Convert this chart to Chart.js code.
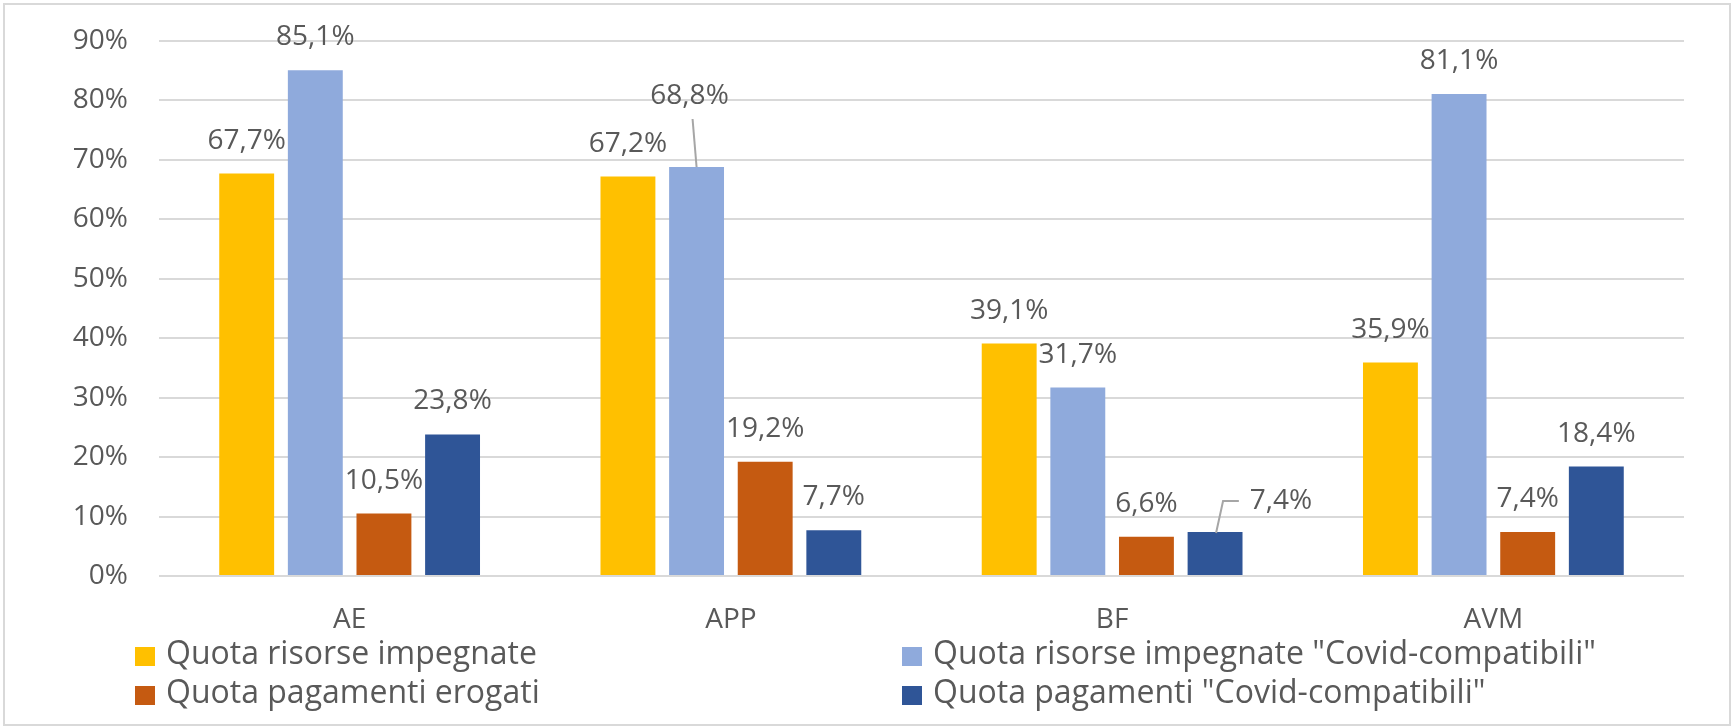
<!DOCTYPE html>
<html>
<head>
<meta charset="utf-8">
<script src="https://cdn.jsdelivr.net/npm/chart.js@4.4.1/dist/chart.umd.min.js"></script>
<style>
    html, body { margin: 0; padding: 0; background: #fff; }
    #wrap { position: relative; width: 1733px; height: 728px; }
    #frame { position: absolute; left: 3px; top: 3px; width: 1728px; height: 723px; border: 2px solid #d9d9d9; box-sizing: border-box; }
    canvas { position: absolute; left: 0; top: 0; }
</style>
</head>
<body>
<div id="wrap">
    <div id="frame"></div>
    <canvas id="chart" width="1733" height="728"></canvas>
</div>
<script>
// Categories and series (percent values)
const categories = ['AE', 'APP', 'BF', 'AVM'];
const seriesNames = [
    'Quota risorse impegnate',
    'Quota risorse impegnate "Covid-compatibili"',
    'Quota pagamenti erogati',
    'Quota pagamenti "Covid-compatibili"'
];
const risorseImpegnate = [67.7, 67.2, 39.1, 35.9];
const risorseCovid = [85.1, 68.8, 31.7, 81.1];
const pagamentiErogati = [10.5, 19.2, 6.6, 7.4];
const pagamentiCovid = [23.8, 7.7, 7.4, 18.4];
const yTicks = [0, 10, 20, 30, 40, 50, 60, 70, 80, 90];

const colors = ['#FFC000', '#8FAADC', '#C55A11', '#2F5597'];
const textColor = '#595959';
const fontFamily = "'Open Sans', sans-serif";

// Label placement tweaks (pixels, relative to the bar) for the two moved labels
const labelTweaks = {
    '1-1': { dx: -7, dy: -38, leader: 'down' },
    '3-2': { dx: 66, dy: 2, leader: 'elbow' }
};

// Data labels drawn above every bar
const dataLabelPlugin = {
    id: 'dataLabels',
    afterDatasetsDraw(chart) {
        const ctx = chart.ctx;
        ctx.save();
        ctx.font = '28px ' + fontFamily;
        ctx.fillStyle = textColor;
        ctx.textAlign = 'center';
        ctx.textBaseline = 'middle';
        chart.data.datasets.forEach((ds, di) => {
            chart.getDatasetMeta(di).data.forEach((bar, i) => {
                let text = ds.data[i].toFixed(1).replace('.', ',') + '%';
                let t = labelTweaks[di + '-' + i] || { dx: 0, dy: 0 };
                let x = bar.x + t.dx;
                let y = bar.y - 33 + t.dy;
                ctx.fillText(text, x, y);
                if (t.leader) {
                    ctx.strokeStyle = '#a6a6a6';
                    ctx.lineWidth = 2;
                    ctx.beginPath();
                    if (t.leader === 'down') {
                        ctx.moveTo(bar.x - 4, y + 23);
                        ctx.lineTo(bar.x, bar.y);
                    } else {
                        let w = ctx.measureText(text).width;
                        ctx.moveTo(bar.x + 1, bar.y + 1);
                        ctx.lineTo(bar.x + 8, y);
                        ctx.lineTo(x - w / 2 - 11, y);
                    }
                    ctx.stroke();
                }
            });
        });
        ctx.restore();
    }
};

// Two-column legend under the axis
const legendPlugin = {
    id: 'twoColLegend',
    afterDraw(chart) {
        const ctx = chart.ctx;
        const cols = [135, 902];
        const rows = [656, 695];
        ctx.save();
        ctx.font = '32px ' + fontFamily;
        ctx.textBaseline = 'middle';
        ctx.textAlign = 'left';
        chart.data.datasets.forEach((ds, i) => {
            let cx = cols[i % 2];
            let cy = rows[Math.floor(i / 2)];
            ctx.fillStyle = ds.backgroundColor;
            ctx.fillRect(cx, cy - 9, 20, 19);
            ctx.fillStyle = textColor;
            ctx.fillText(ds.label, cx + 31, cy - 1);
        });
        ctx.restore();
    }
};

function draw() {
    const allSeries = [risorseImpegnate, risorseCovid, pagamentiErogati, pagamentiCovid];
    new Chart(document.getElementById('chart').getContext('2d'), {
        type: 'bar',
        data: {
            labels: categories,
            datasets: allSeries.map((d, i) => ({
                label: seriesNames[i],
                data: d,
                backgroundColor: colors[i],
                borderWidth: 0,
                categoryPercentage: 0.72,
                barPercentage: 0.8
            }))
        },
        options: {
            responsive: false,
            animation: false,
            devicePixelRatio: 1,
            layout: { padding: { left: 0, top: 41, right: 49, bottom: 0 } },
            plugins: {
                legend: { display: false },
                tooltip: { enabled: false }
            },
            scales: {
                y: {
                    min: 0,
                    max: 90,
                    afterFit: (scale) => {
                        scale.width = 159;
                        scale.paddingTop = 0;
                        scale.paddingBottom = 0;
                    },
                    afterBuildTicks: (scale) => { scale.ticks = yTicks.map(v => ({ value: v })); },
                    grid: { color: '#d9d9d9', lineWidth: 2, drawTicks: false },
                    border: { display: false },
                    ticks: {
                        padding: 31,
                        color: textColor,
                        font: { size: 28, family: fontFamily },
                        callback: (v) => v + '%'
                    }
                },
                x: {
                    afterFit: (scale) => {
                        scale.height = 152;
                        scale.paddingLeft = 0;
                        scale.paddingRight = 0;
                    },
                    grid: { display: false, drawTicks: false },
                    border: { display: false },
                    ticks: {
                        padding: 27,
                        color: textColor,
                        font: { size: 28, family: fontFamily }
                    }
                }
            }
        },
        plugins: [dataLabelPlugin, legendPlugin]
    });
}

document.fonts.load('28px "Open Sans"').then(draw, draw);
</script>
</body>
</html>
